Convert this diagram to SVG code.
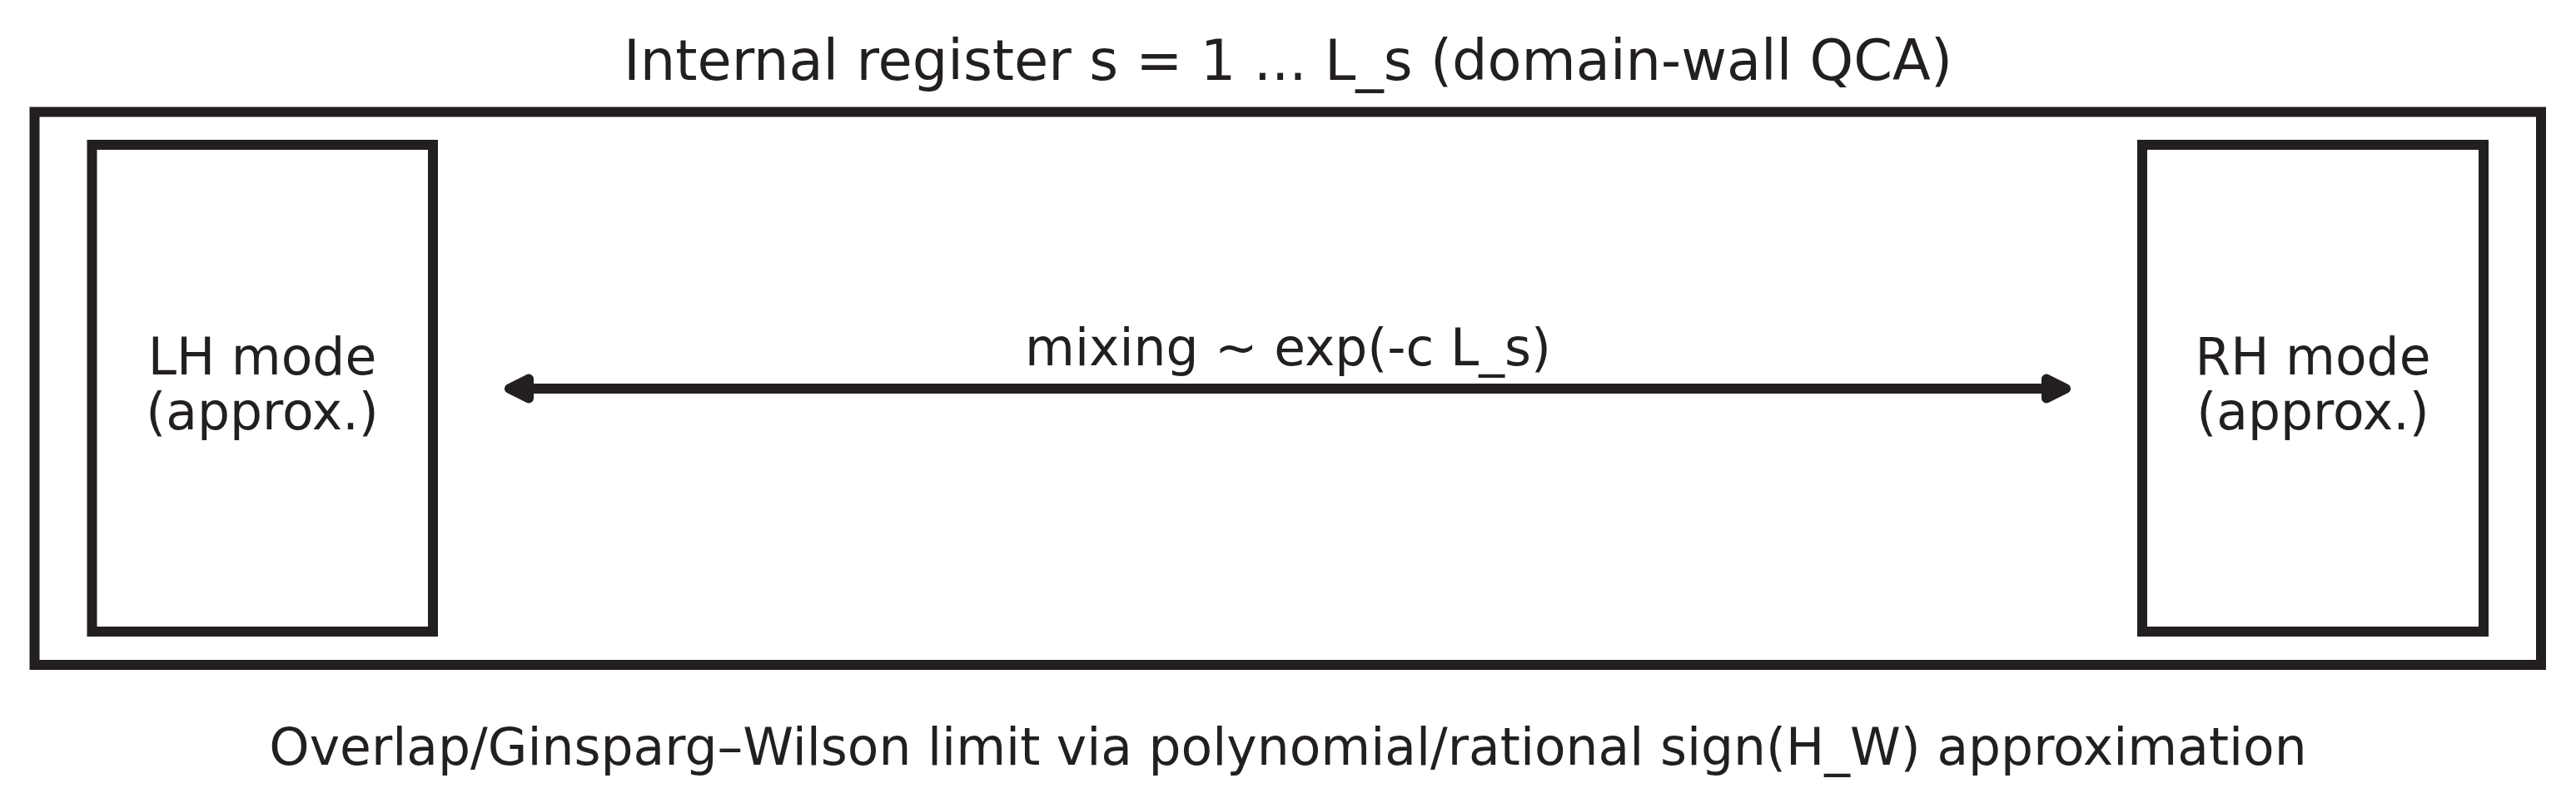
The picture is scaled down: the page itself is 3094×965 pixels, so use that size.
<svg xmlns="http://www.w3.org/2000/svg" width="3094" height="965" viewBox="0 0 3094 965">
<style>
.box{fill:none;stroke:#231f20;stroke-width:12}
.t{font-family:"DejaVu Sans",sans-serif;fill:#231f20;text-anchor:middle}
.lbl{font-size:61.5px}
.ttl{font-size:67px}
.conn{stroke:#231f20;stroke-width:12;fill:none}
.head{fill:#231f20;stroke:#231f20;stroke-width:12;stroke-linejoin:round}
</style>
<rect width="3094" height="965" fill="#ffffff"/>
<g id="register">
<rect class="box" x="41.5" y="134.5" width="3010.5" height="664.5"/>
<text class="t ttl" x="1547" y="96">Internal register s = 1 ... L_s (domain-wall QCA)</text>
</g>
<g id="lh-mode">
<rect class="box" x="110.5" y="174" width="409.5" height="585"/>
<text class="t lbl" x="315" y="450">LH mode</text>
<text class="t lbl" x="315" y="516">(approx.)</text>
</g>
<g id="rh-mode">
<rect class="box" x="2573" y="174" width="410" height="585"/>
<text class="t lbl" x="2778" y="450">RH mode</text>
<text class="t lbl" x="2778" y="516">(approx.)</text>
</g>
<g id="connectors">
<line class="conn" x1="630" y1="467" x2="2463" y2="467"/>
<polygon class="head" points="612,467 635,455.5 635,478.5"/>
<polygon class="head" points="2481,467 2458,455.5 2458,478.5"/>
<text class="t lbl" x="1547" y="439">mixing ~ exp(-c L_s)</text>
</g>
<g id="footer">
<text class="t lbl" x="1547" y="919">Overlap/Ginsparg–Wilson limit via polynomial/rational sign(H_W) approximation</text>
</g>
</svg>
